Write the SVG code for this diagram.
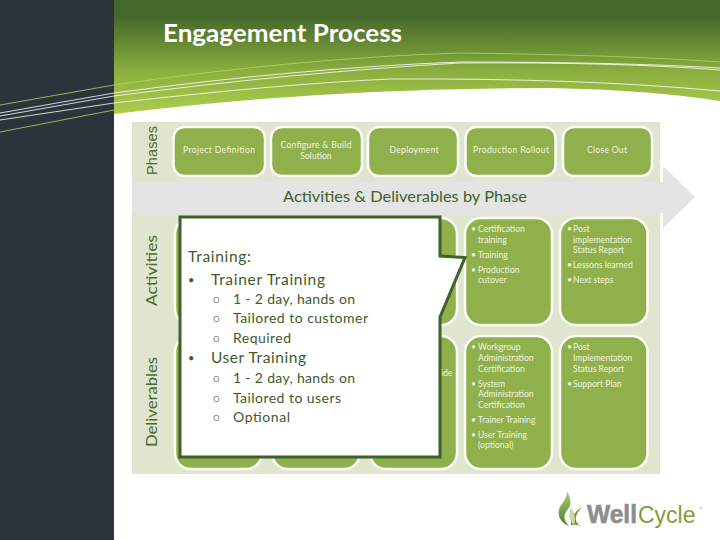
<svg xmlns="http://www.w3.org/2000/svg" width="720" height="540" viewBox="0 0 720 540">
<style>
.box{fill:#8fb04b;stroke:#fbfcf6;stroke-width:2.5}
.t{font-family:"Lato","Open Sans",sans-serif;font-size:8.6px;fill:#f0f4e2}
.c{text-anchor:middle}
.axis{font-family:"Lato",sans-serif;font-size:16px;fill:#4a6b30}
.p{font-family:"Lato","Open Sans",sans-serif;font-size:15.5px;fill:#3f5a2a}
.s{font-size:14px}
.b{font-size:11px}
.o{font-size:12px;font-weight:300}
.w{fill:none;stroke:#ffffff;stroke-width:.8}
.g{fill:none;stroke:#b5d45a;stroke-width:.8}
</style>
<defs>
<linearGradient id="hd" x1="0" y1="0" x2="0" y2="1">
<stop offset="0" stop-color="#45682b"/><stop offset="0.14" stop-color="#46692b"/><stop offset="0.4" stop-color="#6f9236"/><stop offset="0.56" stop-color="#8aad3f"/><stop offset="0.9" stop-color="#abcd4c"/>
</linearGradient>
<linearGradient id="fl" x1="0" y1="0" x2="0" y2="1">
<stop offset="0" stop-color="#b4cc78"/><stop offset="1" stop-color="#4f7a2c"/>
</linearGradient>
</defs>
<rect width="720" height="540" fill="#ffffff"/>
<g id="header">
<rect x="114" y="0" width="606" height="125" fill="url(#hd)"/>
<path d="M114 114Q320 88 550 88Q650 90 720 101V130H114Z" fill="#ffffff"/>
<rect x="0" y="0" width="114" height="540" fill="#2b343c"/>
<path class="g" d="M0 105L114 85Q300 58 460 53Q620 55 720 62"/>
<path class="w" d="M0 113L114 93Q300 68 460 62Q620 62 720 68"/>
<path class="w" d="M0 116L114 96Q300 72 460 63Q620 62 720 70"/>
<path class="w" d="M0 120L114 103Q280 84 390 79Q580 78 720 91"/>
<path class="g" d="M0 132L114 110"/>
<text x="163" y="42" font-family="Lato,'Open Sans',sans-serif" font-size="25" font-weight="700" fill="#ffffff" textLength="239" lengthAdjust="spacingAndGlyphs">Engagement Process</text>
</g>
<g id="panel">
<rect x="132" y="122" width="528" height="352" fill="#dfe5cf"/>
<path d="M132 182H663V166L695 197L663 228V213H132Z" fill="#e4e4e4"/>
<text x="405" y="202" text-anchor="middle" font-family="Lato,'Open Sans',sans-serif" font-size="15" fill="#3f5f2b" textLength="244" lengthAdjust="spacingAndGlyphs">Activities &amp; Deliverables by Phase</text>
<text transform="translate(157 175) rotate(-90)" font-family="'Liberation Sans',sans-serif" font-size="14.500" fill="#4a6b30" textLength="49" lengthAdjust="spacing">Phases</text>
<text class="axis" transform="translate(156.500 306) rotate(-90)" textLength="71" lengthAdjust="spacingAndGlyphs">Activities</text>
<text class="axis" transform="translate(156.500 447) rotate(-90)" textLength="90" lengthAdjust="spacingAndGlyphs">Deliverables</text>
</g>
<g id="phase-1"><rect class="box" x="173.500" y="127" width="91.500" height="49" rx="11"/><text class="t c" x="219" y="153" textLength="72">Project Definition</text></g>
<g id="phase-2"><rect class="box" x="271" y="127" width="91" height="49" rx="11"/><text class="t c" x="316" y="148" textLength="71">Configure &amp; Build</text><text class="t c" x="316" y="159">Solution</text></g>
<g id="phase-3"><rect class="box" x="368" y="127" width="90" height="49" rx="11"/><text class="t c" x="414" y="153" textLength="49">Deployment</text></g>
<g id="phase-4"><rect class="box" x="465.500" y="127" width="90" height="49" rx="11"/><text class="t c" x="511" y="153" textLength="76">Production Rollout</text></g>
<g id="phase-5"><rect class="box" x="563" y="127" width="89" height="49" rx="11"/><text class="t c" x="607" y="153" textLength="40">Close Out</text></g>
<g id="activity-1"><rect class="box" x="175" y="218" width="87" height="107" rx="16"/></g>
<g id="activity-2"><rect class="box" x="272" y="218" width="88" height="107" rx="16"/></g>
<g id="activity-3"><rect class="box" x="370" y="218" width="87" height="107" rx="16"/></g>
<g id="activity-4"><rect class="box" x="465" y="218" width="87" height="107" rx="16"/>
<text class="t" x="471" y="232">•</text><text class="t" x="478" y="232">Certification</text><text class="t" x="478" y="243">training</text>
<text class="t" x="471" y="258">•</text><text class="t" x="478" y="258">Training</text>
<text class="t" x="471" y="273">•</text><text class="t" x="478" y="273">Production</text><text class="t" x="478" y="283">cutover</text></g>
<g id="activity-5"><rect class="box" x="560" y="218" width="87.500" height="107" rx="16"/>
<text class="t" x="567" y="232">•</text><text class="t" x="573" y="232">Post</text><text class="t" x="573" y="243">implementation</text><text class="t" x="573" y="253">Status Report</text>
<text class="t" x="567" y="268">•</text><text class="t" x="573" y="268">Lessons learned</text>
<text class="t" x="567" y="283">•</text><text class="t" x="573" y="283">Next steps</text></g>
<g id="deliverable-1"><rect class="box" x="175" y="336" width="87" height="133" rx="16"/></g>
<g id="deliverable-2"><rect class="box" x="272" y="336" width="88" height="133" rx="16"/></g>
<g id="deliverable-3"><rect class="box" x="370" y="336" width="87" height="133" rx="16"/></g>
<g id="deliverable-4"><rect class="box" x="465" y="336" width="87" height="133" rx="16"/>
<text class="t" x="471" y="350">•</text><text class="t" x="478" y="350">Workgroup</text><text class="t" x="478" y="361">Administration</text><text class="t" x="478" y="372">Certification</text>
<text class="t" x="471" y="387">•</text><text class="t" x="478" y="387">System</text><text class="t" x="478" y="397">Administration</text><text class="t" x="478" y="408">Certification</text>
<text class="t" x="471" y="423">•</text><text class="t" x="478" y="423">Trainer Training</text>
<text class="t" x="471" y="438">•</text><text class="t" x="478" y="438">User Training</text><text class="t" x="478" y="448">(optional)</text></g>
<g id="deliverable-5"><rect class="box" x="560" y="336" width="87.500" height="133" rx="16"/>
<text class="t" x="567" y="350">•</text><text class="t" x="573" y="350">Post</text><text class="t" x="573" y="361">Implementation</text><text class="t" x="573" y="372">Status Report</text>
<text class="t" x="567" y="387">•</text><text class="t" x="573" y="387">Support Plan</text></g>
<g id="popup">
<text class="t" x="441" y="376">ide</text>
<path d="M180 217H440V256L465 257.500L440 317V457H180Z" fill="#ffffff" stroke="#3f5f2b" stroke-width="3"/>
<text class="p" x="188" y="262" textLength="63">Training:</text>
<text class="p b" x="188" y="284">•</text><text class="p" x="211" y="285" textLength="114">Trainer Training</text>
<text class="p o" x="213" y="303">o</text><text class="p s" x="233" y="304" textLength="122">1 - 2 day, hands on</text>
<text class="p o" x="213" y="322">o</text><text class="p s" x="233" y="323" textLength="135">Tailored to customer</text>
<text class="p o" x="213" y="342">o</text><text class="p s" x="233" y="343" textLength="58">Required</text>
<text class="p b" x="188" y="362">•</text><text class="p" x="211" y="363" textLength="95">User Training</text>
<text class="p o" x="213" y="382">o</text><text class="p s" x="233" y="383" textLength="122">1 - 2 day, hands on</text>
<text class="p o" x="213" y="402">o</text><text class="p s" x="233" y="403" textLength="108">Tailored to users</text>
<text class="p o" x="213" y="421">o</text><text class="p s" x="233" y="422" textLength="57">Optional</text>
</g>
<g id="logo">
<path d="M567 491C571 499 572 504 568 509C563 515 563 520 569 526C559 522 556 513 561 505C564 501 567 497 567 491Z" fill="url(#fl)"/>
<path d="M591 504C583 505 577 511 576 517C575 521 577 524 581 526C576 524 572 525 571 525C570 516 579 506 591 504Z" fill="#6d8f35"/>
<path d="M571 508C568 514 569 521 574 525C576 520 575 513 571 508Z" fill="#c9d8a4"/>
<text x="587" y="523" font-family="'Liberation Sans',sans-serif" font-size="25" font-weight="700" fill="#8e8e8e" stroke="#8e8e8e" stroke-width=".6" textLength="50" lengthAdjust="spacingAndGlyphs">Well</text>
<text x="638" y="523" font-family="'Liberation Sans',sans-serif" font-size="23" fill="#7f9f35">Cycle</text>
<text x="698" y="510" font-family="'Liberation Sans',sans-serif" font-size="4" fill="#8e8e8e">™</text>
</g>
</svg>
